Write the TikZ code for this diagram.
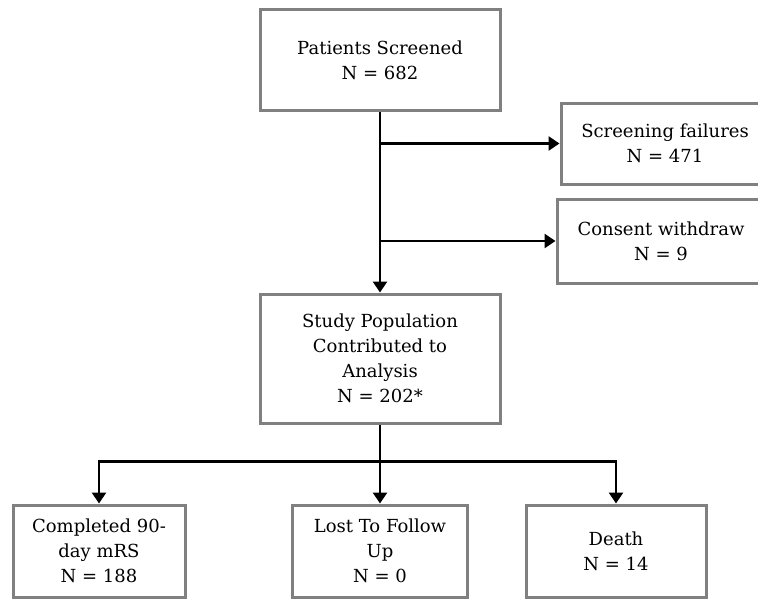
\documentclass[tikz,border=0pt]{standalone}
\usepackage{fontspec}
\setmainfont{DejaVu Serif}
\usepackage{xcolor}
\usepackage{tikz}
\usetikzlibrary{calc,positioning,arrows.meta}
\definecolor{boxgray}{RGB}{128,128,128}
\definecolor{flowblack}{RGB}{0,0,0}

\tikzset{
 stagebox/.style={draw=boxgray, line width=3pt, fill=white, align=center,
  inner sep=2pt, font=\fontsize{18}{25}\selectfont},
 link/.style={draw=flowblack, line width=2.8pt},
 flow/.style={link, -{Triangle[length=11pt,width=14pt]}}
}

\begin{document}
\begin{tikzpicture}[x=1pt,y=-1pt]
% page frame in pixel units of the reference (y grows downwards)
\useasboundingbox (0,0) rectangle (758,598);
% main column
\node[stagebox, minimum width=240, minimum height=101] (screened)
 at (380,60) {Patients Screened\\N = 682};
\node[stagebox, minimum width=240, minimum height=129] (study)
 at (380,358.5) {Study Population\\Contributed to\\Analysis\\N = 202*};
% exclusions on the right, cut by the page edge
\node[stagebox, minimum width=208, minimum height=81] (fail)
 at (665,143.5) {Screening failures\\N = 471};
\node[stagebox, minimum width=208, minimum height=84] (withdraw)
 at (661,241) {Consent withdraw\\N = 9};
% outcomes
\node[stagebox, minimum width=172, minimum height=92] (completed)
 at (99,551) {Completed 90-\\day mRS\\N = 188};
\node[stagebox, minimum width=175, minimum height=92] (lost)
 at (380,551) {Lost To Follow\\Up\\N = 0};
\node[stagebox, minimum width=180, minimum height=92] (death)
 at (616,551) {Death\\N = 14};
% connectors
\draw[flow] (screened.south) -- (study.north);
\draw[flow] (screened.south |- fail.west) -- (fail.west);
\draw[flow] (screened.south |- withdraw.west) -- (withdraw.west);
\coordinate (split) at ($(study.south)+(0,37)$);
\draw[link] (study.south) -- (split);
\draw[flow] (split) -| (completed.north);
\draw[flow] (split) -| (death.north);
\draw[flow] (split) -- (lost.north);
\end{tikzpicture}
\end{document}
